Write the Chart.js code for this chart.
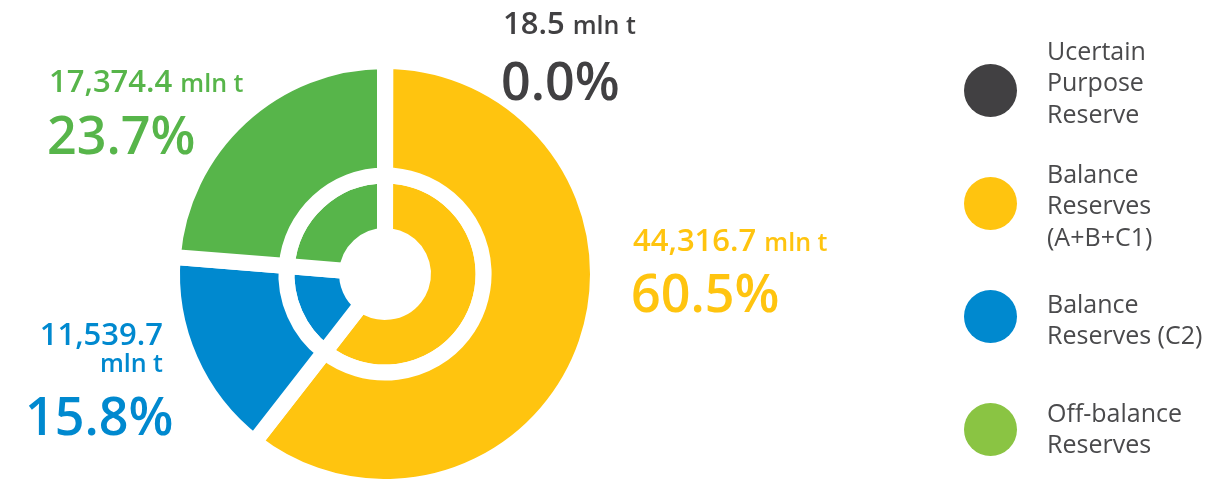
<!DOCTYPE html>
<html>
<head>
<meta charset="utf-8">
<script src="https://cdn.jsdelivr.net/npm/chart.js@4.4.0/dist/chart.umd.min.js"></script>
<style>
    body { margin: 0; background: #fff; }
    #wrap { position: relative; width: 1210px; height: 479px; overflow: hidden; font-family: 'Open Sans', sans-serif; }
    #chart { position: absolute; left: 0; top: 0; }
    .lbl { position: absolute; font-weight: 600; white-space: nowrap; }
    .val { font-size: 31px; line-height: 31px; }
    .val span { font-size: 25px; }
    .pct { font-size: 52px; line-height: 52px; }
    .leg-dot { position: absolute; width: 53px; height: 53px; border-radius: 50%; }
    .leg-txt { position: absolute; left: 1047px; font-size: 25px; line-height: 31.5px; color: #4a4a4c; white-space: nowrap; }
</style>
</head>
<body>
<div id="wrap">
    <canvas id="chart" width="1210" height="479"></canvas>
</div>
<script>
// Data.
const categories = ['Ucertain Purpose Reserve', 'Balance Reserves (A+B+C1)', 'Balance Reserves (C2)', 'Off-balance Reserves'];
const legendLines = [['Ucertain', 'Purpose', 'Reserve'], ['Balance', 'Reserves', '(A+B+C1)'], ['Balance', 'Reserves (C2)'], ['Off-balance', 'Reserves']];
const reserves = [18.5, 44316.7, 11539.7, 17374.4]; // mln t
const unit = 'mln t';

const sliceColors = ['#414042', '#ffc40f', '#0089cf', '#57b54a'];
const labelColors = ['#414042', '#ffc40f', '#0089cf', '#57b54a'];
const legendColors = ['#414042', '#ffc40f', '#0089cf', '#8ac443'];

document.addEventListener('DOMContentLoaded', () => {
    const wrap = document.getElementById('wrap');
    const total = reserves.reduce((a, b) => a + b, 0);

    // Where each slice's labels go (value line baseline, percent baseline).
    const labelPos = [
        { x: 503, vb: 35, px: 501, pb: 100 },
        { x: 633, vb: 252, px: 631, pb: 312 },
        { right: 163, vb: 345, px: 25, pb: 435, split: true },
        { x: 49, vb: 93, px: 47, pb: 154 }
    ];

    reserves.forEach((v, i) => {
        const pos = labelPos[i];
        const num = v.toLocaleString('en-US', { minimumFractionDigits: 1, maximumFractionDigits: 1 });
        const val = document.createElement('div');
        val.className = 'lbl val';
        val.style.color = labelColors[i];
        if (pos.split) {
            val.innerHTML = `${num}<br><span>${unit}</span>`;
            val.style.textAlign = 'right';
            val.style.lineHeight = '27px';
            val.style.right = `${1210 - pos.right}px`;
            val.style.top = `${pos.vb - 25}px`;
        } else {
            val.innerHTML = `${num} <span>${unit}</span>`;
            val.style.left = `${pos.x}px`;
            val.style.top = `${pos.vb - 0.888 * 31}px`;
        }
        wrap.appendChild(val);

        const pct = document.createElement('div');
        pct.className = 'lbl pct';
        pct.style.color = labelColors[i];
        pct.textContent = `${(v / total * 100).toFixed(1)}%`;
        pct.style.left = `${pos.px}px`;
        pct.style.top = `${pos.pb - 0.888 * 52}px`;
        wrap.appendChild(pct);
    });

    // Legend on the right.
    const dotCenters = [90, 203, 316, 429];
    const firstBaselines = [60, 183, 313, 422];
    categories.forEach((c, i) => {
        const dot = document.createElement('div');
        dot.className = 'leg-dot';
        dot.style.background = legendColors[i];
        dot.style.left = `${990 - 26.5}px`;
        dot.style.top = `${dotCenters[i] - 26.5}px`;
        dot.title = c;
        wrap.appendChild(dot);

        const txt = document.createElement('div');
        txt.className = 'leg-txt';
        txt.innerHTML = legendLines[i].join('<br>');
        txt.style.top = `${firstBaselines[i] - 25.4}px`;
        wrap.appendChild(txt);
    });

    const ring = (weight) => ({
        data: reserves,
        backgroundColor: sliceColors,
        borderColor: '#ffffff',
        borderWidth: 16,
        weight: weight
    });

    new Chart(document.getElementById('chart').getContext('2d'), {
        type: 'doughnut',
        data: {
            labels: categories,
            datasets: [ring(115), ring(61)]
        },
        options: {
            responsive: false,
            animation: false,
            events: [],
            radius: 213,
            cutout: '17.8%',
            layout: { padding: { left: 0, right: 440, top: 69, bottom: 0 } },
            plugins: { legend: { display: false }, tooltip: { enabled: false } }
        }
    });
});
</script>
</body>
</html>
